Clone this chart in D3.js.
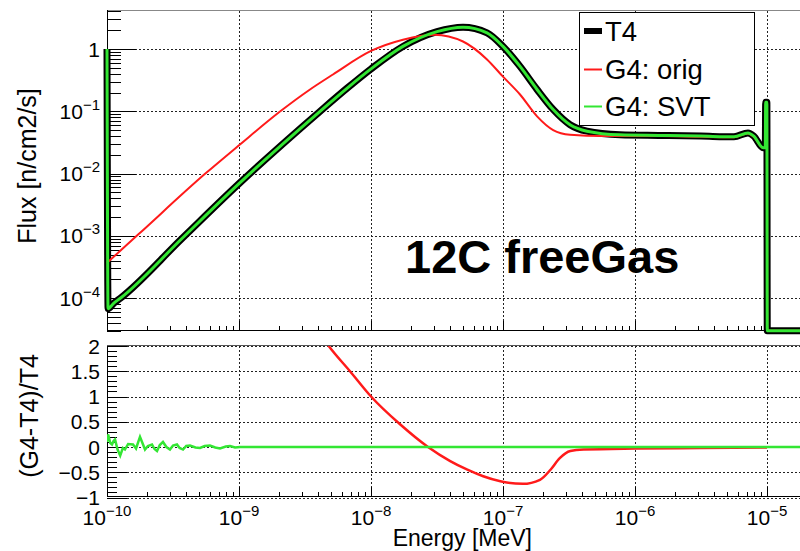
<!DOCTYPE html>
<html><head><meta charset="utf-8">
<script src="https://cdn.jsdelivr.net/npm/d3@7"></script>
<style>body{margin:0;background:#fff}svg{display:block}text{font-family:"Liberation Sans",Arial,sans-serif}</style>
</head><body><svg id="c" width="800" height="551"></svg>
<script>
// ---- data (log10 of energy in MeV; flux in n/cm2/s) ----
const logE_T4 = [-10.0,-9.992,-9.95,-9.899,-9.432,-9.0,-8.386,-8.182,-8.0,-7.758,-7.5,-7.303,-7.121,-7.0,-6.871,-6.742,-6.62,-6.492,-6.364,-6.114,-5.8,-5.5,-5.25,-5.144,-5.10,-5.03,-5.013,-5.010,-5.001,-4.998,-4.75];
const flux_T4  = [1.0,6.8e-5,8.3e-5,1.0e-4,9.1e-4,6.9e-3,0.1,0.234,0.479,1.1,1.9,2.24,1.82,1.1,0.525,0.224,0.107,0.061,0.048,0.042,0.041,0.040,0.039,0.045,0.040,0.026,0.026,0.14,0.14,3e-5,3e-5];
const logE_orig = [-10.0,-9.76,-9.255,-9.0,-8.687,-8.462,-8.288,-8.0,-7.758,-7.52,-7.303,-7.121,-7.0,-6.871,-6.742,-6.62,-6.492,-6.24,-5.8,-5.5,-5.25,-5.144,-5.10,-5.03,-5.013,-5.010,-5.001,-4.998,-4.75];
const flux_orig = [3.7e-4,1.07e-3,1.0e-2,2.85e-2,0.1,0.224,0.39,0.93,1.41,1.7,1.32,0.68,0.36,0.186,0.083,0.05,0.042,0.040,0.040,0.039,0.0385,0.044,0.039,0.026,0.026,0.14,0.14,3e-5,3e-5];
const logE_SVT = logE_T4;
const flux_SVT = flux_T4;
// ratio panel
const logE_ratioOrig = [-8.40,-8.326,-8.159,-8.0,-7.78,-7.568,-7.40,-7.27,-7.15,-7.02,-6.85,-6.72,-6.64,-6.57,-6.49,-6.39,-6.0,-5.5,-5.0];
const ratio_orig = [2.3,2.02,1.5,1.0,0.45,0.0,-0.28,-0.45,-0.58,-0.68,-0.73,-0.65,-0.45,-0.22,-0.08,-0.05,-0.03,-0.02,-0.01];
const logE_ratioSVT = [-10.0,-9.992,-9.975,-9.962,-9.95,-9.939,-9.92,-9.90,-9.88,-9.864,-9.84,-9.803,-9.78,-9.75,-9.73,-9.712,-9.69,-9.659,-9.64,-9.621,-9.6,-9.576,-9.55,-9.523,-9.5,-9.47,-9.45,-9.424,-9.40,-9.371,-9.33,-9.295,-9.26,-9.22,-9.18,-9.144,-9.10,-9.068,-9.03,-8.992,-8.5,-7.0,-6.0,-5.0,-4.75];
const ratio_SVT = [0.1,0.25,0.08,0.05,0.12,0.15,-0.05,-0.17,-0.02,-0.05,0.06,0.05,-0.03,0.2,0.07,-0.05,0.02,0.05,-0.04,-0.08,0.04,0.1,0.0,-0.05,0.03,0.05,-0.02,-0.05,0.02,0.03,-0.01,-0.02,0.02,0.03,-0.01,-0.03,0.01,0.02,-0.01,0.0,0.0,0.0,0.0,0.0,0.0];
// ticks / labels
const xTickExps = [-10,-9,-8,-7,-6,-5];
const fluxTickExps = [0,-1,-2,-3,-4];
const ratioTicks = [2,1.5,1,0.5,0,-0.5,-1];
const legendLabels = ["T4","G4: orig","G4: SVT"];
const colors = {T4:"#000000", orig:"#ff1a1a", SVT:"#33e633"};

const svg = d3.select("#c");
const X0 = 107, X1 = 800;
const x = d3.scaleLog().domain([1e-10, Math.pow(10,-4.75)]).range([X0, X1]);
const yT = d3.scaleLog().domain([Math.pow(10,-4.526), Math.pow(10,0.626)]).range([331, 10]);
const yB = d3.scaleLinear().domain([-1, 2]).range([497.5, 346]);

const gridStyle = s => s.attr("stroke","#222").attr("stroke-width",1).attr("stroke-dasharray","2,2");

// ---- grids ----
const g = svg.append("g");
xTickExps.forEach(e => {
  const xx = Math.round(x(Math.pow(10,e)))+0.5;
  gridStyle(g.append("line").attr("x1",xx).attr("x2",xx).attr("y1",11).attr("y2",331));
  gridStyle(g.append("line").attr("x1",xx).attr("x2",xx).attr("y1",346).attr("y2",497));
});
fluxTickExps.forEach(e => {
  const yy = Math.round(yT(Math.pow(10,e)))+0.5;
  gridStyle(g.append("line").attr("x1",X0).attr("x2",X1).attr("y1",yy).attr("y2",yy));
});
ratioTicks.forEach(v => {
  const yy = Math.round(yB(v))+0.5;
  gridStyle(g.append("line").attr("x1",X0).attr("x2",X1).attr("y1",yy).attr("y2",yy));
});

// ---- frames & ticks ----
const ax = svg.append("g").attr("stroke","#000").attr("stroke-width",1).attr("shape-rendering","crispEdges");
ax.append("line").attr("x1",X0).attr("x2",X1).attr("y1",10.5).attr("y2",10.5).attr("stroke","#888");
ax.append("line").attr("x1",X0+0.5).attr("x2",X0+0.5).attr("y1",10).attr("y2",331);
ax.append("line").attr("x1",X0).attr("x2",X1).attr("y1",330.5).attr("y2",330.5);
ax.append("line").attr("x1",X0).attr("x2",X1).attr("y1",345.5).attr("y2",345.5).attr("stroke","#555");
ax.append("line").attr("x1",X0+0.5).attr("x2",X0+0.5).attr("y1",346).attr("y2",497);
ax.append("line").attr("x1",X0).attr("x2",X1).attr("y1",496.5).attr("y2",496.5);

// log ticks on x for both panels
for (let e=-10; e<=-5; e++) {
  for (let m=1; m<=9; m++) {
    const v = m*Math.pow(10,e);
    if (v > x.domain()[1]) continue;
    const xx = Math.round(x(v))+0.5;
    const len = m===1?10:5;
    ax.append("line").attr("x1",xx).attr("x2",xx).attr("y1",331).attr("y2",331-len);
    ax.append("line").attr("x1",xx).attr("x2",xx).attr("y1",497).attr("y2",497-len);
  }
}
// log ticks on top-panel y
for (let e=-5; e<=0; e++) {
  for (let m=1; m<=9; m++) {
    const v = m*Math.pow(10,e);
    if (v < yT.domain()[0] || v > yT.domain()[1]) continue;
    const yy = Math.round(yT(v))+0.5;
    ax.append("line").attr("x1",X0).attr("x2",X0+(m===1?29:14)).attr("y1",yy).attr("y2",yy);
  }
}
// linear ticks on ratio y
for (let i=-10; i<=20; i++) {
  const v = i/10, yy = Math.round(yB(v))+0.5;
  ax.append("line").attr("x1",X0).attr("x2",X0+(i%5===0?20:10)).attr("y1",yy).attr("y2",yy);
}

// ---- tick labels ----
const lab = svg.append("g").attr("fill","#000").attr("font-size",21);
function pow10(t, e) {
  if (e===0) { t.text("1"); return; }
  t.append("tspan").text("10");
  t.append("tspan").attr("dy",-9).attr("font-size",15).text("\u2212"+Math.abs(e));
}
fluxTickExps.forEach(e => {
  const t = lab.append("text").attr("x",100).attr("y",yT(Math.pow(10,e))+7.5).attr("text-anchor","end");
  pow10(t,e);
});
ratioTicks.forEach(v => {
  lab.append("text").attr("x",100).attr("y",yB(v)+7.5).attr("text-anchor","end")
     .text(String(v).replace("-","\u2212"));
});
xTickExps.forEach(e => {
  const t = lab.append("text").attr("x",x(Math.pow(10,e))).attr("y",525).attr("text-anchor","middle");
  pow10(t,e);
});

// ---- axis titles ----
svg.append("text").attr("transform","translate(36,166) rotate(-90)").attr("text-anchor","middle")
   .attr("font-size",25).text("Flux [n/cm2/s]");
svg.append("text").attr("transform","translate(38,416) rotate(-90)").attr("text-anchor","middle")
   .attr("font-size",25).text("(G4-T4)/T4");
svg.append("text").attr("x",532).attr("y",546).attr("text-anchor","end")
   .attr("font-size",23).text("Energy [MeV]");

// ---- curves ----
const lineTop = d3.line().x(d=>x(Math.pow(10,d[0]))).y(d=>yT(d[1])).curve(d3.curveMonotoneX);
const lineBot = d3.line().x(d=>x(Math.pow(10,d[0]))).y(d=>yB(d[1]));
const zip = (a,b) => a.map((v,i)=>[v,b[i]]);

svg.append("defs").append("clipPath").attr("id","cb").append("rect").attr("x",X0).attr("y",346).attr("width",X1-X0).attr("height",152);

const cv = svg.append("g").attr("fill","none").attr("stroke-linejoin","round");
cv.append("path").attr("d",lineTop(zip(logE_T4,flux_T4))).attr("stroke",colors.T4).attr("stroke-width",7);
cv.append("path").attr("d",lineTop(zip(logE_orig,flux_orig))).attr("stroke",colors.orig).attr("stroke-width",2);
cv.append("path").attr("d",lineTop(zip(logE_SVT,flux_SVT))).attr("stroke",colors.SVT).attr("stroke-width",3);

const cb = svg.append("g").attr("fill","none").attr("clip-path","url(#cb)");
cb.append("path").attr("d",lineBot.curve(d3.curveMonotoneX)(zip(logE_ratioOrig,ratio_orig))).attr("stroke",colors.orig).attr("stroke-width",2.5);
cb.append("path").attr("d",lineBot.curve(d3.curveLinear)(zip(logE_ratioSVT,ratio_SVT))).attr("stroke",colors.SVT).attr("stroke-width",2.5);

// ---- legend ----
const lg = svg.append("g");
lg.append("rect").attr("x",579.5).attr("y",12.5).attr("width",175).attr("height",113).attr("fill","#fff").attr("stroke","#000");
const ly = [31,69.5,106.5], lw = [6,2,2], lc = [colors.T4, colors.orig, colors.SVT];
legendLabels.forEach((s,i) => {
  lg.append("line").attr("x1",584).attr("x2",602).attr("y1",ly[i]).attr("y2",ly[i]).attr("stroke",lc[i]).attr("stroke-width",lw[i]);
  lg.append("text").attr("x",605).attr("y",ly[i]+9.5).attr("font-size",27.5).text(s);
});

// ---- annotation ----
svg.append("text").attr("x",405).attr("y",273).attr("font-size",47).attr("font-weight","bold").text("12C freeGas");
</script></body></html>
